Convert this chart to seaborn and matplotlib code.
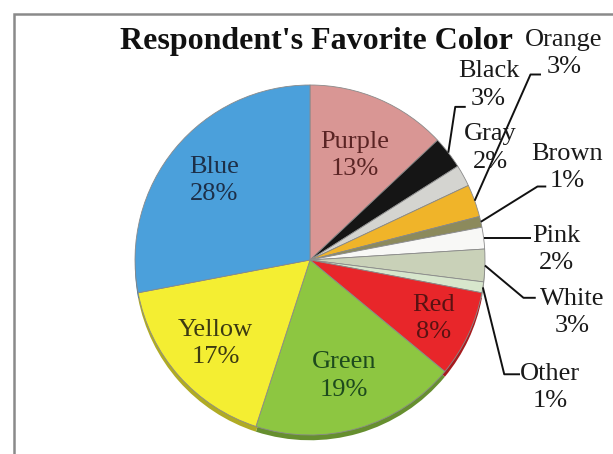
import numpy as np
import seaborn as sns
import matplotlib.pyplot as plt
from matplotlib.patches import Rectangle
from matplotlib.colors import to_rgb

# Data (clockwise from 12 o'clock)
categories = ['Purple', 'Black', 'Gray', 'Orange', 'Brown', 'Pink',
              'White', 'Other', 'Red', 'Green', 'Yellow', 'Blue']
percents = [13, 3, 2, 3, 1, 2, 3, 1, 8, 19, 17, 28]
slice_colors = ['#d99694', '#151515', '#d4d4d0', '#f0b429', '#8c8a5c', '#f8f8f6',
                '#c9d1b8', '#d7e6cc', '#e8262a', '#8dc641', '#f4ee32', '#4ba0db']
inside = ['Purple', 'Red', 'Green', 'Yellow', 'Blue']
inside_text_colors = {'Purple': '#5a2424', 'Red': '#5a1212', 'Green': '#1d4a1d',
                      'Yellow': '#3c3a12', 'Blue': '#1d2f48'}

sns.set_style('white')
plt.rcParams['font.family'] = ['Liberation Serif', 'DejaVu Serif']

fig = plt.figure(figsize=(6.13, 4.54), dpi=100)

# frame around the chart (runs off the right and bottom edge)
fig.patches.append(Rectangle((14 / 613, -0.1), 1.2, 1 - 14 / 454 + 0.1,
                             transform=fig.transFigure, fill=False,
                             edgecolor='#8a8a8a', linewidth=1.8))

# pie axes: centre (310, 260) px, radius 175 px
cx, cy, r = 310, 260, 175
ax = fig.add_axes([(cx - r) / 613, (454 - cy - r) / 454, 2 * r / 613, 2 * r / 454])
ax.axis('off')

palette = sns.color_palette(slice_colors)
rim = [tuple(np.array(to_rgb(c)) * 0.72) for c in palette]

# darker copy slightly lower for the 3-D rim
rim_wedges, _ = ax.pie(percents, colors=rim, startangle=90, counterclock=False,
                       radius=1, center=(0, -0.03), wedgeprops=dict(linewidth=0),
                       frame=False)
wedges, _ = ax.pie(percents, colors=palette, startangle=90, counterclock=False,
                   radius=1, wedgeprops=dict(edgecolor='#8a8a8a', linewidth=0.6),
                   frame=False)
for w in rim_wedges + wedges:
    w.set_clip_on(False)
ax.set_xlim(-1, 1)
ax.set_ylim(-1, 1)
ax.set_aspect('equal')

label_r = {'Purple': 0.65, 'Red': 0.78, 'Green': 0.69, 'Yellow': 0.72, 'Blue': 0.71}
mids = {}
for w, name, p in zip(wedges, categories, percents):
    mid = np.deg2rad((w.theta1 + w.theta2) / 2)
    mids[name] = mid
    if name in inside:
        rr = label_r[name]
        ax.text(rr * np.cos(mid), rr * np.sin(mid), f'{name}\n{p}%',
                ha='center', va='center', ma='center', fontsize=19,
                color=inside_text_colors[name], linespacing=1.3)

# outside labels: text centre and leader-line elbow points (pie units)
outside = {
    'Orange': ((1.45, 1.18), [(1.26, 1.06), (1.32, 1.06)]),
    'Black': ((1.02, 1.0), [(0.83, 0.875), (0.89, 0.875)]),
    'Gray': ((1.03, 0.64), []),
    'Brown': ((1.47, 0.53), [(1.30, 0.42), (1.35, 0.42)]),
    'Pink': ((1.41, 0.06), [(1.26, None)]),
    'White': ((1.50, -0.30), [(1.22, -0.216), (1.29, -0.216)]),
    'Other': ((1.37, -0.73), [(1.11, -0.653), (1.20, -0.653)]),
}
for name, p in zip(categories, percents):
    if name not in outside:
        continue
    (tx, ty), pts = outside[name]
    ax.text(tx, ty, f'{name}\n{p}%', ha='center', va='center', ma='center',
            fontsize=19, color='#1a1a1a', linespacing=1.3)
    if pts:
        sx, sy = np.cos(mids[name]), np.sin(mids[name])
        xs, ys = [sx], [sy]
        for px, py in pts:
            xs.append(px)
            ys.append(sy if py is None else py)
        ax.plot(xs, ys, color='#111111', linewidth=1.4, clip_on=False,
                solid_capstyle='butt')

fig.text(316 / 613, 1 - 42 / 454, "Respondent's Favorite Color", ha='center',
         va='center', fontsize=23, fontweight='bold', color='#111111')

fig.savefig('out.png', dpi=100)
